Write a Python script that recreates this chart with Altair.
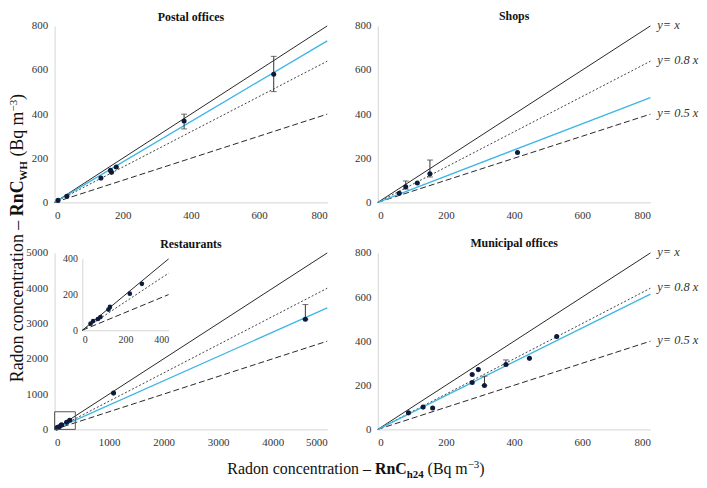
import altair as alt
import pandas as pd

FONT = "Liberation Serif, Times New Roman, serif"

# ---------------- data ----------------
postal_x = [10, 36, 136, 164, 167, 181, 380, 643]
postal_y = [9, 28, 110, 145, 136, 160, 369, 581]
postal_err_x = [380, 643]
postal_err_lo = [333, 502]
postal_err_hi = [400, 662]
postal_fit = 0.915

shops_x = [63, 82, 116, 153, 410]
shops_y = [41, 71, 88, 130, 226]
shops_err_x = [82, 153]
shops_err_lo = [60, 115]
shops_err_hi = [97, 192]
shops_fit = 0.594

rest_x = [38, 50, 72, 84, 121, 128, 220, 276, 1081, 4599]
rest_y = [37, 52, 63, 74, 116, 131, 205, 260, 1028, 3120]
rest_err_x = [4599]
rest_err_lo = [3120]
rest_err_hi = [3537]
rest_fit = 0.689
inset_x = [38, 50, 72, 84, 121, 128, 220, 276]
inset_y = [37, 52, 63, 74, 116, 131, 205, 260]
box_x = [0, 380]
box_y = [0, 500]

muni_x = [90, 133, 161, 277, 277, 295, 313, 376, 445, 525]
muni_y = [75, 101, 97, 249, 213, 271, 199, 294, 322, 421]
muni_err_x = [313, 376]
muni_err_lo = [199, 294]
muni_err_hi = [241, 315]
muni_fit = 0.767

ref_slopes = [1.0, 0.8, 0.5]
ref_labels = ["y= x", "y= 0.8 x", "y= 0.5 x"]
ref_dash = [None, [2, 2], [6, 3]]
ref_color = ["#262626", "#404040", "#262626"]

ticks_800 = [0, 200, 400, 600, 800]
ticks_5000 = [0, 1000, 2000, 3000, 4000, 5000]
ticks_inset = [0, 200, 400]

W, H = 275, 178
BLUE = "#3cb6e6"
DOT = "#0d1b3a"


def enc(maxv, ticks, xr=None, yr=None, axis_extra=None):
    xs = alt.Scale(domain=[0, maxv], nice=False, zero=True)
    ys = alt.Scale(domain=[0, maxv], nice=False, zero=True)
    base = dict(values=ticks, title=None, format="d", labelFont=FONT, labelFontSize=11,
                labelColor="#333", domainColor="#d4d4d4", ticks=False, grid=False, labelPadding=7)
    xa = dict(base)
    ya = dict(base)
    if xr is not None:
        xs = alt.Scale(domain=[0, maxv], nice=False, range=xr)
        ys = alt.Scale(domain=[0, maxv], nice=False, range=yr)
        xa.update(axis_extra["x"])
        ya.update(axis_extra["y"])
    return xs, ys, alt.Axis(**xa), alt.Axis(**ya)


def ref_lines(maxv, xs, ys, xa, ya, labels=False):
    layers = []
    for s, d, c in zip(ref_slopes, ref_dash, ref_color):
        df = pd.DataFrame({"x": [0, maxv], "y": [0, s * maxv]})
        kw = dict(color=c, strokeWidth=1)
        if d:
            kw["strokeDash"] = d
        layers.append(alt.Chart(df).mark_line(**kw).encode(
            x=alt.X("x:Q", scale=xs, axis=xa), y=alt.Y("y:Q", scale=ys, axis=ya)))
    if labels:
        df = pd.DataFrame({"x": [maxv] * 3, "y": [s * maxv for s in ref_slopes], "t": ref_labels})
        layers.append(alt.Chart(df).mark_text(
            font=FONT, fontSize=12.5, fontStyle="italic", align="left", baseline="middle",
            dx=7, dy=-1, color="#333").encode(
            x=alt.X("x:Q", scale=xs, axis=xa), y=alt.Y("y:Q", scale=ys, axis=ya), text="t:N"))
    return layers


def panel(title, maxv, ticks, px, py, ex, elo, ehi, fit, labels=False, extra=None):
    xs, ys, xa, ya = enc(maxv, ticks)
    layers = ref_lines(maxv, xs, ys, xa, ya, labels)
    fdf = pd.DataFrame({"x": [0, maxv], "y": [0, fit * maxv]})
    layers.append(alt.Chart(fdf).mark_line(color=BLUE, strokeWidth=1.3).encode(
        x=alt.X("x:Q", scale=xs, axis=xa), y=alt.Y("y:Q", scale=ys, axis=ya)))
    edf = pd.DataFrame({"x": ex, "lo": elo, "hi": ehi})
    layers.append(alt.Chart(edf).mark_rule(color="#333", strokeWidth=1).encode(
        x=alt.X("x:Q", scale=xs, axis=xa), y=alt.Y("lo:Q", scale=ys, axis=ya), y2="hi:Q"))
    for col in ["lo", "hi"]:
        layers.append(alt.Chart(edf).mark_tick(orient="horizontal", size=6, thickness=1, color="#333").encode(
            x=alt.X("x:Q", scale=xs, axis=xa), y=alt.Y(f"{col}:Q", scale=ys, axis=ya)))
    pdf = pd.DataFrame({"x": px, "y": py})
    layers.append(alt.Chart(pdf).mark_circle(size=26, color=DOT, opacity=1).encode(
        x=alt.X("x:Q", scale=xs, axis=xa), y=alt.Y("y:Q", scale=ys, axis=ya)))
    main = alt.layer(*layers)
    if extra is not None:
        main = alt.layer(main, *extra).resolve_scale(x="independent", y="independent").resolve_axis(
            x="independent", y="independent")
    return main.properties(width=W, height=H, title=title)


# ----- rich-text axis titles (Times metrics, per 1000 em) -----
REG = {" ": 250, "R": 667, "a": 444, "d": 500, "o": 500, "n": 500, "c": 444, "e": 444,
       "t": 278, "r": 333, "i": 278, "\u2013": 500, "(": 333, ")": 333, "B": 667, "q": 500,
       "m": 778, "\u2212": 564, "3": 500}
BOLD = {"R": 722, "n": 556, "C": 722, "W": 1000, "H": 778, "h": 556, "2": 500, "4": 500}


def tw(text, bold, fs):
    tab = BOLD if bold else REG
    return sum(tab.get(ch, 500) for ch in text) * fs / 1000.0


def rich_pieces(sub, fs, sfs):
    # (text, bold, font size, shift, leading gap in em of the piece)
    return [("Radon concentration \u2013", False, fs, 0, 0.0),
            ("RnC", True, fs, 0, 0.25),
            (sub, True, sfs, 1, 0.0),
            ("(Bq m", False, fs, 0, 0.25),
            ("\u22123", False, sfs, -1, 0.0),
            (")", False, fs, 0, 0.0)]


def title_layers(pieces, cx, cy, vertical):
    total = sum(tw(t, b, f) + g * f for t, b, f, _, g in pieces)
    rows = []
    cum = 0.0
    for t, b, f, sh, g in pieces:
        cum += g * f
        shift = 4.5 if sh == 1 else (-6.0 if sh == -1 else 0.0)
        if vertical:
            x = cx + shift
            y = cy + total / 2 - cum
        else:
            x = cx - total / 2 + cum
            y = cy + shift
        rows.append({"px": x, "py": y, "t": t, "fs": f, "b": b})
        cum += tw(t, b, f)
    df = pd.DataFrame(rows)
    out = []
    for bold in [False, True]:
        out.append(alt.Chart(df).transform_filter(
            alt.datum.b == bold).mark_text(
            font=FONT, fontWeight="bold" if bold else "normal", align="left",
            baseline="alphabetic", angle=270 if vertical else 0, color="#111").encode(
            x=alt.X("px:Q", scale=None, axis=None), y=alt.Y("py:Q", scale=None, axis=None),
            size=alt.Size("fs:Q", scale=None), text="t:N"))
    return out


ytitle = title_layers(rich_pieces("WH", 18, 11), -32, 214, True)
xtitle = title_layers(rich_pieces("h24", 16, 11), 304, 223, False)

# ----- inset for restaurants -----
ixs, iys, ixa, iya = enc(400, ticks_inset, xr=[28, 115], yr=[78, 6], axis_extra={
    "x": dict(orient="bottom", offset=-(H - 78), labelFontSize=10, labelPadding=4),
    "y": dict(orient="left", offset=-28, labelFontSize=10, labelPadding=5)})
inset_layers = ref_lines(400, ixs, iys, ixa, iya)
inset_layers.append(alt.Chart(pd.DataFrame({"x": inset_x, "y": inset_y})).mark_circle(
    size=22, color=DOT, opacity=1).encode(
    x=alt.X("x:Q", scale=ixs, axis=ixa), y=alt.Y("y:Q", scale=iys, axis=iya)))
inset = alt.layer(*inset_layers)

rxs, rys, rxa, rya = enc(5000, ticks_5000)
box = alt.Chart(pd.DataFrame({"x": [box_x[0]], "x2": [box_x[1]], "y": [box_y[0]], "y2": [box_y[1]]})).mark_rect(
    fill=None, stroke="#555", strokeWidth=1).encode(
    x=alt.X("x:Q", scale=rxs, axis=rxa), x2="x2:Q", y=alt.Y("y:Q", scale=rys, axis=rya), y2="y2:Q")

p1 = panel("Postal offices", 800, ticks_800, postal_x, postal_y, postal_err_x, postal_err_lo,
           postal_err_hi, postal_fit, extra=ytitle)
p2 = panel("Shops", 800, ticks_800, shops_x, shops_y, shops_err_x, shops_err_lo, shops_err_hi,
           shops_fit, labels=True)
rest_main = panel("Restaurants", 5000, ticks_5000, rest_x, rest_y, rest_err_x, rest_err_lo,
                  rest_err_hi, rest_fit)
p3 = alt.layer(alt.layer(rest_main.properties(title=""), box), inset, *xtitle).resolve_scale(
    x="independent", y="independent").resolve_axis(x="independent", y="independent").properties(
    width=W, height=H, title="Restaurants")
p4 = panel("Municipal offices", 800, ticks_800, muni_x, muni_y, muni_err_x, muni_err_lo,
           muni_err_hi, muni_fit, labels=True)

chart = alt.concat(p1, p2, p3, p4, columns=2, spacing={"row": 51, "column": 51},
                   bounds="flush").properties(padding=0).configure_view(stroke=None).configure_axis(
    labelFont=FONT, labelFontSize=11, labelColor="#333", domainColor="#d4d4d4", ticks=False,
    grid=False, labelPadding=7).configure_title(
    font=FONT, fontSize=12, fontWeight="bold", color="#111", offset=-4)

chart.save("out.html", embed_options={"renderer": "svg", "actions": False})
